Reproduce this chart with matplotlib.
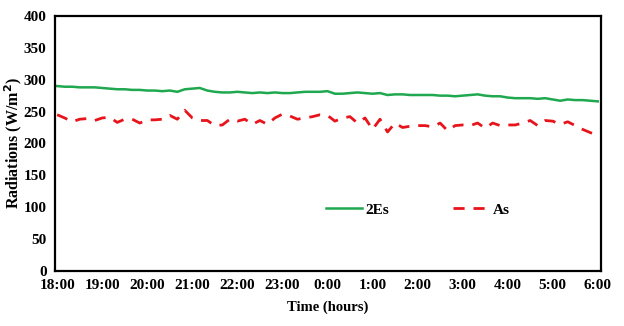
import numpy as np
import matplotlib.pyplot as plt

# night-time radiation, one reading every 10 minutes from 18:00 to 6:00
hour_labels = ["18:00", "19:00", "20:00", "21:00", "22:00", "23:00", "0:00",
               "1:00", "2:00", "3:00", "4:00", "5:00", "6:00"]

es2 = [290, 289, 289, 288, 288, 288,
       287, 286, 285, 285, 284, 284,
       283, 283, 282, 283, 281, 285,
       286, 287, 283, 281, 280, 280,
       281, 280, 279, 280, 279, 280,
       279, 279, 280, 281, 281, 281,
       282, 278, 278, 279, 280, 279,
       278, 279, 276, 277, 277, 276,
       276, 276, 276, 275, 275, 274,
       275, 276, 277, 275, 274, 274,
       272, 271, 271, 271, 270, 271,
       269, 267, 269, 268, 268, 267,
       266]

a_s = [245, 240, 234, 238, 239, 236,
       240, 241, 233, 238, 238, 232,
       237, 237, 238, 244, 238, 252,
       240, 236, 236, 228, 229, 238,
       235, 238, 230, 236, 230, 240,
       246, 243, 238, 240, 242, 245,
       244, 235, 240, 242, 232, 240,
       222, 238, 218, 232, 225, 227,
       228, 228, 226, 232, 220, 228,
       229, 228, 232, 224, 232, 228,
       229, 229, 232, 236, 228, 236,
       235, 230, 234, 228, 222, 217,
       213]

t = np.arange(len(es2)) / 6.0

plt.rcParams['font.family'] = ['Liberation Serif', 'DejaVu Serif']
plt.rcParams['font.weight'] = 'bold'

fig = plt.figure(figsize=(6.24, 3.26), dpi=100)
ax = fig.add_axes([0.088, 0.169, 0.875, 0.782])

ax.plot(t, es2, color='#1fa84f', lw=1.8, label='2Es')
ax.plot(t, a_s, color='#e8141c', lw=2.0, ls=(0, (4, 3.2)), label='As')

ax.set_xlim(-0.05, 12.07)
ax.set_ylim(0, 400)
ax.set_xticks(range(len(hour_labels)))
ax.set_xticklabels(hour_labels)
ax.set_yticks(range(0, 401, 50))
ax.tick_params(length=0, labelsize=11, pad=6)
for lbl in ax.get_xticklabels() + ax.get_yticklabels():
    lbl.set_fontweight('bold')

for sp in ax.spines.values():
    sp.set_linewidth(1.6)
    sp.set_color('black')

ax.set_xlabel("Time (hours)", fontsize=10.5, fontweight='bold', labelpad=6)
ax.set_ylabel("Radiations (W/m$\\mathbf{^2}$)", fontsize=11.5, fontweight='bold')
ax.yaxis.set_label_coords(-0.057, 0.5)

leg = ax.legend(loc='center', bbox_to_anchor=(0.665, 0.24), ncol=2, frameon=False,
                fontsize=11, handlelength=2.4, columnspacing=4.2, handletextpad=0.2)
for txt in leg.get_texts():
    txt.set_fontweight('bold')

fig.savefig("out.png", dpi=100)
